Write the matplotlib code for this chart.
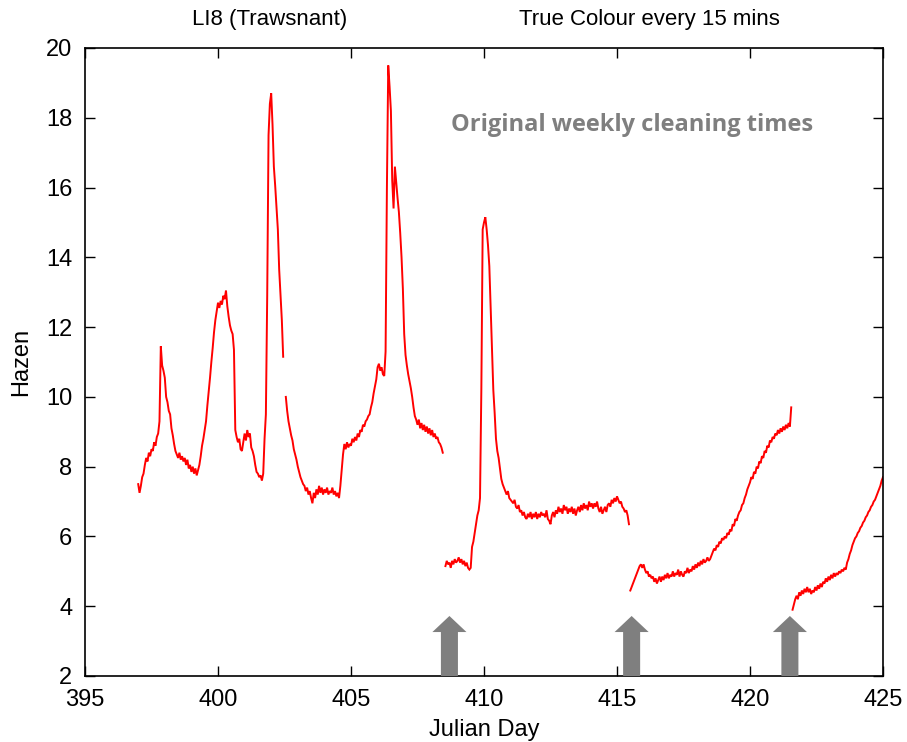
import numpy as np
import matplotlib
matplotlib.use("Agg")
import matplotlib.pyplot as plt
from matplotlib.patches import FancyArrow

plt.rcParams['font.family'] = ['Liberation Sans', 'DejaVu Sans']

# True colour (Hazen) logged every 15 mins, thinned to one reading per 0.05 day
STEP = 0.05

seg1_start = 397.00
seg1_hazen = [
    7.50, 7.25, 7.45, 7.70, 7.80, 8.05, 8.25, 8.15, 8.40, 8.30,
    8.50, 8.45, 8.70, 8.60, 8.85, 8.95, 9.30, 11.45, 10.90, 10.75,
    10.55, 10.00, 9.85, 9.60, 9.50, 9.10, 8.90, 8.65, 8.45, 8.35,
    8.25, 8.40, 8.20, 8.30, 8.15, 8.25, 8.05, 8.20, 7.95, 8.05,
    7.85, 8.00, 7.80, 7.95, 7.75, 7.90, 8.05, 8.30, 8.60, 8.80,
    9.05, 9.30, 9.75, 10.15, 10.55, 11.00, 11.40, 11.85, 12.20, 12.45,
    12.70, 12.55, 12.75, 12.65, 12.90, 12.80, 13.05, 12.60, 12.30, 12.05,
    11.90, 11.80, 11.35, 9.05, 8.85, 8.70, 8.80, 8.50, 8.45, 8.70,
    8.95, 8.75, 9.05, 8.85, 8.95, 8.55, 8.45, 8.30, 8.05, 7.85,
    7.80, 7.70, 7.75, 7.60, 7.80, 8.80, 9.50, 12.90, 17.50, 18.40,
    18.70, 17.80, 16.60, 16.05, 15.40, 14.80, 13.65, 12.90, 12.20, 11.15,
    np.nan, 10.00, 9.60, 9.30, 9.10, 8.90, 8.75, 8.50, 8.35, 8.20,
    8.00, 7.85, 7.70, 7.60, 7.50, 7.45, 7.30, 7.40, 7.20, 7.30,
    7.10, 6.95, 7.25, 7.10, 7.35, 7.20, 7.45, 7.25, 7.40, 7.20,
    7.35, 7.25, 7.40, 7.20, 7.30, 7.25, 7.40, 7.20, 7.30, 7.15,
    7.25, 7.10, 7.45, 7.90, 8.35, 8.65, 8.50, 8.70, 8.55, 8.65,
    8.60, 8.80, 8.70, 8.85, 8.75, 8.95, 8.85, 9.05, 9.00, 9.20,
    9.15, 9.30, 9.35, 9.45, 9.50, 9.70, 9.85, 10.10, 10.30, 10.50,
    10.85, 10.95, 10.75, 10.85, 10.65, 10.60, 11.30, 16.00, 19.50, 18.90,
    18.20, 16.20, 15.40, 16.60, 16.15, 15.70, 15.30, 14.70, 14.00, 13.10,
    11.80, 11.20, 10.90, 10.65, 10.45, 10.25, 10.00, 9.70, 9.45, 9.35,
    9.20, 9.35, 9.10, 9.25, 9.05, 9.20, 9.00, 9.15, 8.95, 9.10,
    8.90, 9.05, 8.85, 8.95, 8.80, 8.85, 8.70, 8.65, 8.55, 8.40,
]

seg2_start = 408.55
seg2_hazen = [
    5.15, 5.30, 5.20, 5.25, 5.10, 5.30, 5.20, 5.35, 5.25, 5.30,
    5.40, 5.25, 5.35, 5.20, 5.30, 5.15, 5.25, 5.10, 5.05, 5.10,
    5.70, 5.85, 6.10, 6.35, 6.60, 6.75, 7.10, 10.20, 14.80, 15.00,
    15.15, 14.80, 14.35, 13.75, 12.55, 11.40, 10.20, 9.55, 8.80, 8.45,
    8.25, 7.95, 7.65, 7.50, 7.40, 7.30, 7.20, 7.30, 7.10, 7.05,
    7.00, 6.95, 7.05, 6.85, 6.80, 6.90, 6.70, 6.75, 6.60, 6.70,
    6.55, 6.50, 6.65, 6.55, 6.70, 6.50, 6.65, 6.55, 6.70, 6.50,
    6.65, 6.55, 6.70, 6.60, 6.65, 6.55, 6.75, 6.50, 6.45, 6.35,
    6.60, 6.70, 6.55, 6.75, 6.65, 6.85, 6.70, 6.80, 6.65, 6.90,
    6.75, 6.85, 6.65, 6.80, 6.70, 6.85, 6.65, 6.80, 6.60, 6.75,
    6.85, 6.70, 6.90, 6.75, 6.95, 6.80, 6.90, 6.75, 7.00, 6.85,
    6.95, 6.80, 6.95, 6.85, 7.00, 6.80, 6.70, 6.85, 6.65, 6.75,
    6.85, 6.70, 6.90, 6.95, 6.85, 7.05, 6.95, 7.10, 7.00, 7.15,
    7.05, 6.95, 7.00, 6.85, 6.80, 6.70, 6.75, 6.60, 6.35,
]

seg3_start = 415.50
seg3_hazen = [
    4.45, 4.55, 4.65, 4.75, 4.85, 4.95, 5.05, 5.15, 5.20, 5.10,
    5.20, 5.05, 4.95, 5.00, 4.85, 4.90, 4.80, 4.85, 4.70, 4.80,
    4.65, 4.75, 4.85, 4.70, 4.85, 4.75, 4.90, 4.80, 4.95, 4.80,
    4.90, 4.85, 5.00, 4.85, 4.95, 4.90, 5.05, 4.85, 5.00, 4.90,
    4.85, 5.00, 4.95, 5.10, 4.95, 5.05, 5.00, 5.15, 5.05, 5.20,
    5.10, 5.25, 5.15, 5.30, 5.20, 5.35, 5.25, 5.30, 5.40, 5.30,
    5.35, 5.45, 5.55, 5.65, 5.60, 5.75, 5.70, 5.85, 5.80, 5.95,
    5.90, 6.00, 5.95, 6.10, 6.05, 6.20, 6.15, 6.35, 6.30, 6.50,
    6.45, 6.60, 6.70, 6.75, 6.90, 6.95, 7.10, 7.20, 7.35, 7.45,
    7.55, 7.70, 7.65, 7.85, 7.80, 8.00, 7.95, 8.15, 8.10, 8.30,
    8.25, 8.45, 8.40, 8.60, 8.55, 8.75, 8.70, 8.85, 8.80, 8.95,
    8.90, 9.05, 8.95, 9.10, 9.00, 9.15, 9.05, 9.20, 9.10, 9.25,
    9.15, 9.70,
]

seg4_start = 421.60
seg4_hazen = [
    3.90, 4.05, 4.20, 4.30, 4.20, 4.40, 4.30, 4.45, 4.35, 4.50,
    4.40, 4.55, 4.40, 4.50, 4.35, 4.45, 4.40, 4.55, 4.45, 4.60,
    4.50, 4.65, 4.55, 4.70, 4.65, 4.80, 4.70, 4.85, 4.75, 4.90,
    4.80, 4.95, 4.85, 4.95, 4.90, 5.00, 4.95, 5.05, 5.00, 5.10,
    5.05, 5.25, 5.35, 5.50, 5.60, 5.75, 5.85, 5.95, 6.00, 6.10,
    6.15, 6.25, 6.30, 6.40, 6.45, 6.55, 6.60, 6.70, 6.75, 6.85,
    6.90, 7.00, 7.05, 7.15, 7.25, 7.35, 7.45, 7.60, 7.70,
]

segments = [
    (seg1_start, seg1_hazen),
    (seg2_start, seg2_hazen),
    (seg3_start, seg3_hazen),
    (seg4_start, seg4_hazen),
]

# Days on which the sensor was cleaned
cleaning_days = [408.7, 415.55, 421.5]

x_ticks = [395, 400, 405, 410, 415, 420, 425]
y_ticks = [2, 4, 6, 8, 10, 12, 14, 16, 18, 20]

fig = plt.figure(figsize=(9.07, 7.42), dpi=100)
ax = fig.add_axes([85 / 907, 1 - 676 / 742, 798 / 907, 628 / 742])

for start, vals in segments:
    vals = np.asarray(vals, dtype=float)
    days = start + STEP * np.arange(len(vals))
    ax.plot(days, vals, color='#ff0000', linewidth=1.4, solid_joinstyle='miter')

# Block arrows marking the cleaning times
for d in cleaning_days:
    arr = FancyArrow(d, 2.0, 0, 1.72, width=0.64, head_width=1.28,
                     head_length=0.46, length_includes_head=True,
                     color='#7f7f7f', linewidth=0, zorder=3)
    ax.add_patch(arr)

ax.text(0.685, 0.877, 'Original weekly cleaning times', transform=ax.transAxes,
        ha='center', va='center', fontsize=17, fontweight='bold',
        color='#7f7f7f', family=['Open Sans', 'DejaVu Sans'])

ax.set_xlim(395, 425)
ax.set_ylim(2, 20)
ax.set_xticks(x_ticks)
ax.set_yticks(y_ticks)
ax.tick_params(direction='in', length=7, width=1.0, top=True, right=True,
               labelsize=17, pad=9, colors='black')
for s in ax.spines.values():
    s.set_linewidth(1.2)

ax.set_xlabel('Julian Day', fontsize=17, labelpad=6)
ax.set_ylabel('Hazen', fontsize=17, labelpad=10)

fig.text(270 / 907, 1 - 20 / 742, 'LI8 (Trawsnant)', ha='center', va='center',
         fontsize=16)
fig.text(649 / 907, 1 - 20 / 742, 'True Colour every 15 mins', ha='center',
         va='center', fontsize=16)

fig.savefig('out.png', dpi=100)
